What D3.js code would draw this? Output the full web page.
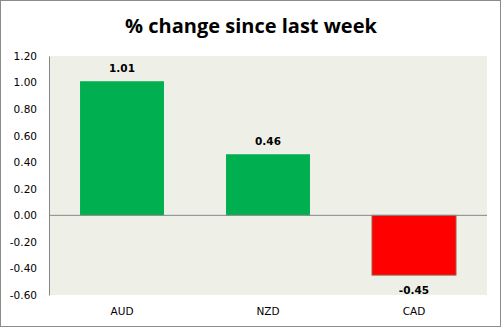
<!DOCTYPE html>
<html>
<head>
<meta charset="utf-8">
<script src="https://cdn.jsdelivr.net/npm/d3@7"></script>
<style>
  html, body { margin: 0; padding: 0; background: #fff; }
  svg { display: block; }
</style>
</head>
<body>
<script>
// Weekly percentage change by currency
const currencies = ["AUD", "NZD", "CAD"];
const changes = [1.01, 0.46, -0.45];
const yTicks = [1.2, 1.0, 0.8, 0.6, 0.4, 0.2, 0.0, -0.2, -0.4, -0.6];
const chartTitle = "% change since last week";

const W = 502, H = 328;
const plot = { left: 49, right: 487, top: 56, bottom: 295 };

// plain hyphen for negatives
const fmt = d3.formatLocale({ decimal: ".", thousands: ",", grouping: [3], currency: ["", ""], minus: "-" }).format(".2f");

const svg = d3.select("body").append("svg")
  .attr("width", W).attr("height", H);

// outer frame
svg.append("rect")
  .attr("x", 0.5).attr("y", 0.5)
  .attr("width", W - 2).attr("height", H - 2)
  .attr("fill", "#fff").attr("stroke", "#8c8c8c").attr("stroke-width", 1);

svg.append("text")
  .attr("x", 251).attr("y", 33)
  .attr("text-anchor", "middle")
  .attr("font-family", "'Open Sans', 'DejaVu Sans', sans-serif")
  .attr("font-weight", "bold")
  .attr("font-size", 20)
  .attr("fill", "#000")
  .text(chartTitle);

const x = d3.scaleBand()
  .domain(currencies)
  .range([plot.left, plot.right])
  .paddingInner(0.425)
  .paddingOuter(0.2125);

const y = d3.scaleLinear()
  .domain([-0.6, 1.2])
  .range([plot.bottom, plot.top]);

// plot area background
svg.append("rect")
  .attr("x", plot.left).attr("y", plot.top)
  .attr("width", plot.right - plot.left)
  .attr("height", plot.bottom - plot.top)
  .attr("fill", "#eef0e8");

// y axis with labels only
const yAxis = svg.append("g")
  .attr("transform", `translate(${plot.left},0)`)
  .call(d3.axisLeft(y).tickValues(yTicks).tickFormat(fmt).tickSize(0).tickPadding(12));
yAxis.select(".domain").attr("stroke", "#868686");
yAxis.selectAll("text")
  .attr("font-family", "Verdana, 'DejaVu Sans', sans-serif")
  .attr("font-size", 10.5)
  .attr("fill", "#000");

const rows = currencies.map((c, i) => ({ c, v: changes[i] }));

// bars
svg.append("g").selectAll("rect")
  .data(rows)
  .join("rect")
  .attr("x", d => x(d.c))
  .attr("width", x.bandwidth())
  .attr("y", d => y(Math.max(0, d.v)))
  .attr("height", d => Math.abs(y(d.v) - y(0)))
  .attr("fill", d => d.v >= 0 ? "#00b050" : "#ff0000")
  .attr("stroke", d => d.v >= 0 ? "none" : "#9c5a3c")
  .attr("stroke-width", 1);

// zero line
svg.append("line")
  .attr("x1", plot.left).attr("x2", plot.right)
  .attr("y1", y(0)).attr("y2", y(0))
  .attr("stroke", "#868686").attr("stroke-width", 1);

// value labels
svg.append("g").selectAll("text")
  .data(rows)
  .join("text")
  .attr("x", d => x(d.c) + x.bandwidth() / 2)
  .attr("y", d => d.v >= 0 ? y(d.v) - 9 : y(d.v) + 19)
  .attr("text-anchor", "middle")
  .attr("font-family", "Verdana, 'DejaVu Sans', sans-serif")
  .attr("font-weight", "bold")
  .attr("font-size", 10.5)
  .attr("fill", "#000")
  .text(d => fmt(d.v));

// category labels
svg.append("g").selectAll("text")
  .data(currencies)
  .join("text")
  .attr("x", d => x(d) + x.bandwidth() / 2)
  .attr("y", 315)
  .attr("text-anchor", "middle")
  .attr("font-family", "Verdana, 'DejaVu Sans', sans-serif")
  .attr("font-size", 10.5)
  .attr("fill", "#000")
  .text(d => d);
</script>
</body>
</html>
